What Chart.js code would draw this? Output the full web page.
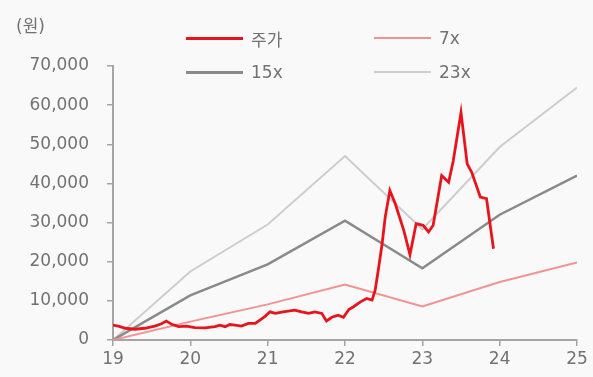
<!DOCTYPE html>
<html lang="ko">
<head>
<meta charset="UTF-8">
<title>주가 밴드</title>
<script src="https://cdn.jsdelivr.net/npm/chart.js"></script>
<style>
    /* page + chart box */
    body {
        margin: 0px;
        background-color: #f9f9f9;
        font-family: 'DejaVu Sans', 'Noto Sans CJK KR', sans-serif;
        color: #727272;
    }
    .wrap {
        position: relative;
        width: 593px;
        height: 377px;
    }
    .unit {
        position: absolute;
        left: 16px;
        top: 12px;
        font-size: 17px;
    }
    /* two-column legend */
    .legend {
        position: absolute;
        left: 186px;
        top: 21px;
        display: grid;
        grid-template-columns: 188px 188px;
        grid-auto-rows: 34px;
        font-size: 17px;
    }
    .item {
        display: flex;
        align-items: center;
    }
    .swatch {
        display: inline-block;
        width: 57px;
        margin-right: 8px;
    }
</style>
</head>
<body>

<div class="wrap">
    <canvas id="band"></canvas>
    <div class="unit">(원)</div>
    <div class="legend" id="legend"></div>
</div>

<script>
    // 주가 (monthly, x = year as decimal, 19 = 2019)
    const priceYears = [19.00, 19.08, 19.16, 19.28, 19.41, 19.54, 19.62, 19.69, 19.76, 19.85,
        19.95, 20.06, 20.19, 20.32, 20.38, 20.45, 20.51, 20.58, 20.66, 20.75,
        20.84, 20.90, 20.97, 21.03, 21.10, 21.20, 21.35, 21.44, 21.53, 21.61,
        21.70, 21.76, 21.83, 21.91, 21.98, 22.05, 22.11, 22.20, 22.28, 22.35,
        22.39, 22.43, 22.48, 22.52, 22.58, 22.65, 22.76, 22.84, 22.92, 23.01,
        23.08, 23.14, 23.25, 23.34, 23.40, 23.50, 23.58, 23.64, 23.75, 23.83, 23.92];
    const price = [3800, 3500, 3000, 2750, 3000, 3550, 4100, 4850, 4000, 3400,
        3550, 3150, 3100, 3400, 3800, 3400, 3950, 3800, 3550, 4250,
        4250, 5100, 6100, 7200, 6800, 7200, 7650, 7200, 6800, 7200,
        6800, 4850, 5800, 6350, 5800, 7800, 8500, 9750, 10600, 10200,
        12700, 17800, 24600, 31400, 38200, 34800, 28000, 21800, 29700, 29300,
        27600, 29300, 42000, 40300, 45800, 58100, 45000, 42800, 36500, 36100, 23300];

    // PER band lines (year-end points)
    const bandYears = [19, 20, 21, 22, 23, 24, 25];
    const per7 = [0, 4700, 9100, 14200, 8600, 14800, 19800];
    const per15 = [0, 11400, 19300, 30500, 18300, 32000, 42000];
    const per23 = [0, 17500, 29500, 47000, 28300, 49300, 64500];

    const xTicks = [19, 20, 21, 22, 23, 24, 25];
    const yTicks = [0, 10000, 20000, 30000, 40000, 50000, 60000, 70000];

    function pts(xs, ys) {
        return ys.map(function(v, i) { return {x: xs[i], y: v}; });
    }

    const series = [
        {label: '주가', data: pts(priceYears, price), borderColor: '#e8141b', borderWidth: 2.8},
        {label: '7x', data: pts(bandYears, per7), borderColor: '#f29292', borderWidth: 2},
        {label: '15x', data: pts(bandYears, per15), borderColor: '#8a8a8a', borderWidth: 2.5},
        {label: '23x', data: pts(bandYears, per23), borderColor: '#cdcdcd', borderWidth: 2}
    ];

    // legend in the same order, 2 per row
    const legend = document.getElementById('legend');
    series.forEach(function(s) {
        let item = document.createElement('div');
        item.className = 'item';
        let sw = document.createElement('span');
        sw.className = 'swatch';
        sw.style.height = Math.round(s.borderWidth) + 'px';
        sw.style.backgroundColor = s.borderColor;
        item.appendChild(sw);
        item.appendChild(document.createTextNode(s.label));
        legend.appendChild(item);
    });

    const axisColor = '#a4a4a4';
    const textColor = '#727272';
    const tickFont = {family: "'DejaVu Sans', 'Noto Sans CJK KR', sans-serif", size: 17};

    const config = {
        type: 'line',
        data: {
            datasets: series.map(function(s) {
                return {
                    label: s.label,
                    data: s.data,
                    borderColor: s.borderColor,
                    borderWidth: s.borderWidth,
                    pointRadius: 0,
                    tension: 0,
                    fill: false
                };
            })
        },
        options: {
            responsive: true,
            maintainAspectRatio: false,
            animation: false,
            events: [],
            layout: {padding: {top: 66, right: 16, left: 0, bottom: 0}},
            plugins: {
                legend: {display: false},
                tooltip: {enabled: false}
            },
            scales: {
                x: {
                    type: 'linear',
                    min: xTicks[0],
                    max: xTicks[xTicks.length - 1],
                    afterBuildTicks: function(scale) {
                        scale.ticks = xTicks.map(function(v) { return {value: v}; });
                    },
                    afterFit: function(scale) { scale.height = 37; },
                    ticks: {
                        color: textColor,
                        font: tickFont,
                        padding: 3,
                        maxRotation: 0,
                        callback: function(v) { return String(v); }
                    },
                    grid: {drawOnChartArea: false, drawTicks: true, tickLength: 6, color: axisColor, lineWidth: 1.5},
                    border: {display: true, color: axisColor, width: 2}
                },
                y: {
                    min: yTicks[0],
                    max: yTicks[yTicks.length - 1],
                    afterBuildTicks: function(scale) {
                        scale.ticks = yTicks.map(function(v) { return {value: v}; });
                    },
                    afterFit: function(scale) { scale.width = 113; },
                    ticks: {
                        color: textColor,
                        font: tickFont,
                        padding: 18,
                        callback: function(v) { return v.toLocaleString('en-US'); }
                    },
                    grid: {drawOnChartArea: false, drawTicks: true, tickLength: 6, color: axisColor, lineWidth: 1.5},
                    border: {display: true, color: axisColor, width: 2}
                }
            }
        }
    };

    let chart = new Chart(document.getElementById('band'), config);
</script>
</body>
</html>
